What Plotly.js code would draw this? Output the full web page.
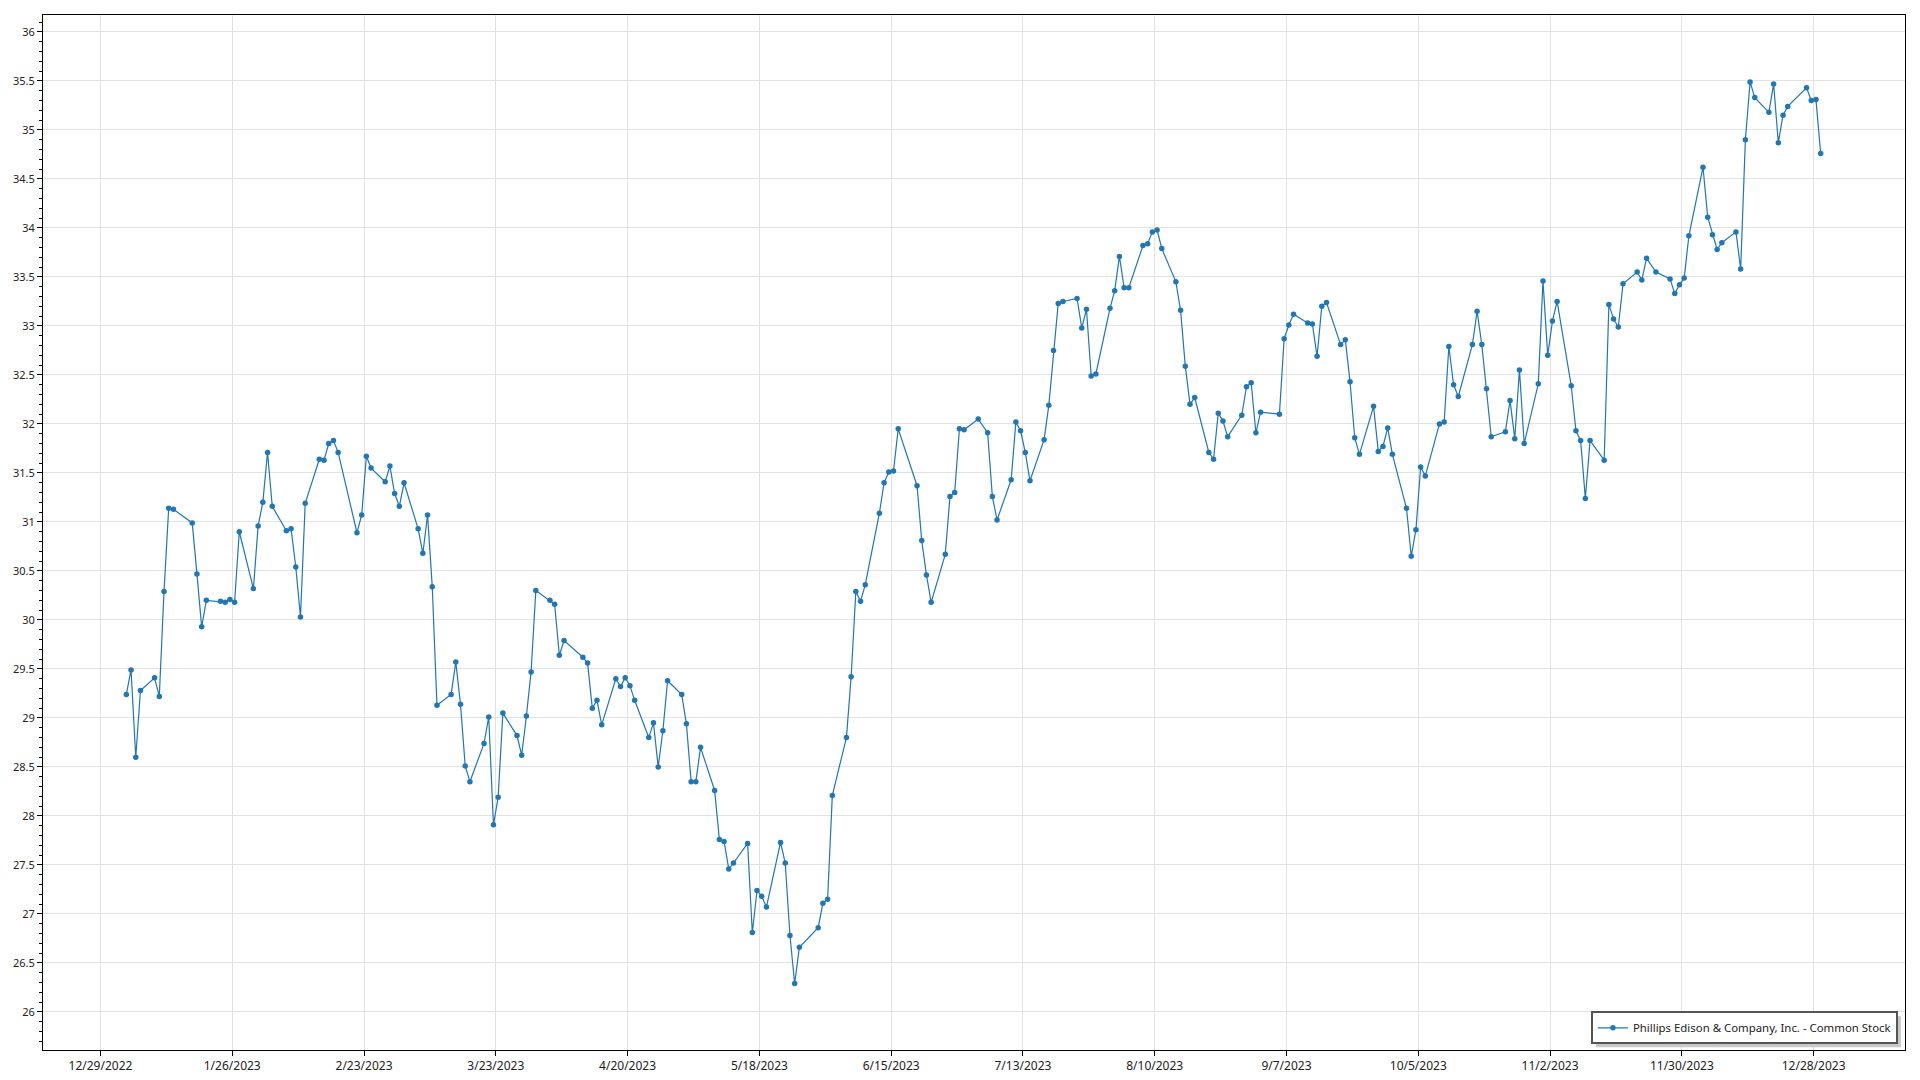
<!DOCTYPE html>
<html>
<head>
<meta charset="utf-8">
<script src="https://cdn.plot.ly/plotly-3.0.1.min.js"></script>
<style>
html, body { margin: 0; padding: 0; background: #ffffff; }
#chart { width: 1920px; height: 1080px; }
</style>
</head>
<body>
<div id="chart"></div>
<script>
const seriesName = "Phillips Edison & Company, Inc. - Common Stock";

const dates = [
  "2023-01-03","2023-01-04","2023-01-05","2023-01-06","2023-01-09","2023-01-10","2023-01-11","2023-01-12","2023-01-13","2023-01-17",
  "2023-01-18","2023-01-19","2023-01-20","2023-01-23","2023-01-24","2023-01-25","2023-01-26","2023-01-27","2023-01-30","2023-01-31",
  "2023-02-01","2023-02-02","2023-02-03","2023-02-06","2023-02-07","2023-02-08","2023-02-09","2023-02-10","2023-02-13","2023-02-14",
  "2023-02-15","2023-02-16","2023-02-17","2023-02-21","2023-02-22","2023-02-23","2023-02-24","2023-02-27","2023-02-28",
  "2023-03-01","2023-03-02","2023-03-03","2023-03-06","2023-03-07","2023-03-08","2023-03-09","2023-03-10","2023-03-13","2023-03-14",
  "2023-03-15","2023-03-16","2023-03-17","2023-03-20","2023-03-21","2023-03-22","2023-03-23","2023-03-24","2023-03-27","2023-03-28",
  "2023-03-29","2023-03-30","2023-03-31",
  "2023-04-03","2023-04-04","2023-04-05","2023-04-06","2023-04-10","2023-04-11","2023-04-12","2023-04-13","2023-04-14","2023-04-17",
  "2023-04-18","2023-04-19","2023-04-20","2023-04-21","2023-04-24","2023-04-25","2023-04-26","2023-04-27","2023-04-28",
  "2023-05-01","2023-05-02","2023-05-03","2023-05-04","2023-05-05","2023-05-08","2023-05-09","2023-05-10","2023-05-11","2023-05-12",
  "2023-05-15","2023-05-16","2023-05-17","2023-05-18","2023-05-19","2023-05-22","2023-05-23","2023-05-24","2023-05-25","2023-05-26",
  "2023-05-30","2023-05-31",
  "2023-06-01","2023-06-02","2023-06-05","2023-06-06","2023-06-07","2023-06-08","2023-06-09","2023-06-12","2023-06-13","2023-06-14",
  "2023-06-15","2023-06-16","2023-06-20","2023-06-21","2023-06-22","2023-06-23","2023-06-26","2023-06-27","2023-06-28","2023-06-29",
  "2023-06-30",
  "2023-07-03","2023-07-05","2023-07-06","2023-07-07","2023-07-10","2023-07-11","2023-07-12","2023-07-13","2023-07-14","2023-07-17",
  "2023-07-18","2023-07-19","2023-07-20","2023-07-21","2023-07-24","2023-07-25","2023-07-26","2023-07-27","2023-07-28","2023-07-31",
  "2023-08-01","2023-08-02","2023-08-03","2023-08-04","2023-08-07","2023-08-08","2023-08-09","2023-08-10","2023-08-11","2023-08-14",
  "2023-08-15","2023-08-16","2023-08-17","2023-08-18","2023-08-21","2023-08-22","2023-08-23","2023-08-24","2023-08-25","2023-08-28",
  "2023-08-29","2023-08-30","2023-08-31",
  "2023-09-01","2023-09-05","2023-09-06","2023-09-07","2023-09-08","2023-09-11","2023-09-12","2023-09-13","2023-09-14","2023-09-15",
  "2023-09-18","2023-09-19","2023-09-20","2023-09-21","2023-09-22","2023-09-25","2023-09-26","2023-09-27","2023-09-28","2023-09-29",
  "2023-10-02","2023-10-03","2023-10-04","2023-10-05","2023-10-06","2023-10-09","2023-10-10","2023-10-11","2023-10-12","2023-10-13",
  "2023-10-16","2023-10-17","2023-10-18","2023-10-19","2023-10-20","2023-10-23","2023-10-24","2023-10-25","2023-10-26","2023-10-27",
  "2023-10-30","2023-10-31",
  "2023-11-01","2023-11-02","2023-11-03","2023-11-06","2023-11-07","2023-11-08","2023-11-09","2023-11-10","2023-11-13","2023-11-14",
  "2023-11-15","2023-11-16","2023-11-17","2023-11-20","2023-11-21","2023-11-22","2023-11-24","2023-11-27","2023-11-28","2023-11-29",
  "2023-11-30",
  "2023-12-01","2023-12-04","2023-12-05","2023-12-06","2023-12-07","2023-12-08","2023-12-11","2023-12-12","2023-12-13","2023-12-14",
  "2023-12-15","2023-12-18","2023-12-19","2023-12-20","2023-12-21","2023-12-22","2023-12-26","2023-12-27","2023-12-28","2023-12-29"
];

const closes = [
  29.24,29.49,28.60,29.28,29.41,29.22,30.29,31.14,31.13,30.99,
  30.47,29.93,30.20,30.19,30.18,30.21,30.18,30.90,30.32,30.96,
  31.20,31.71,31.16,30.91,30.93,30.54,30.03,31.19,31.64,31.63,
  31.80,31.83,31.71,30.89,31.07,31.67,31.55,31.41,31.57,
  31.29,31.16,31.40,30.93,30.68,31.07,30.34,29.13,29.24,29.57,
  29.14,28.51,28.35,28.74,29.01,27.91,28.19,29.05,28.82,28.62,
  29.02,29.47,30.30,
  30.20,30.16,29.64,29.79,29.62,29.56,29.10,29.18,28.93,29.40,
  29.32,29.41,29.33,29.18,28.80,28.95,28.50,28.87,29.38,
  29.24,28.94,28.35,28.35,28.70,28.26,27.76,27.74,27.46,27.52,
  27.72,26.81,27.24,27.18,27.07,27.73,27.52,26.78,26.29,26.66,
  26.86,27.11,
  27.15,28.21,28.80,29.42,30.29,30.19,30.36,31.09,31.40,31.51,
  31.52,31.95,31.37,30.81,30.46,30.18,30.67,31.26,31.30,31.95,
  31.94,
  32.05,31.91,31.26,31.02,31.43,32.02,31.93,31.71,31.42,31.84,
  32.19,32.75,33.23,33.25,33.28,32.98,33.17,32.49,32.51,33.18,
  33.36,33.71,33.39,33.39,33.82,33.84,33.96,33.98,33.79,33.45,
  33.16,32.59,32.20,32.27,31.71,31.64,32.11,32.03,31.87,32.09,
  32.38,32.42,31.91,
  32.12,32.10,32.87,33.01,33.12,33.03,33.02,32.69,33.20,33.24,
  32.81,32.86,32.43,31.86,31.69,32.18,31.72,31.77,31.96,31.69,
  31.14,30.65,30.92,31.56,31.47,32.00,32.02,32.79,32.40,32.28,
  32.81,33.15,32.81,32.36,31.87,31.92,32.24,31.85,32.55,31.80,
  32.41,33.46,
  32.70,33.05,33.25,32.39,31.93,31.83,31.24,31.83,31.63,33.22,
  33.07,32.99,33.43,33.55,33.47,33.69,33.55,33.48,33.33,33.42,
  33.49,
  33.92,34.62,34.11,33.93,33.78,33.85,33.96,33.58,34.90,35.49,
  35.33,35.18,35.47,34.87,35.15,35.24,35.43,35.30,35.31,34.76
];

const lineColor = "#1f77b4";
const fontFamily = "'Segoe UI', 'Noto Sans', 'DejaVu Sans', sans-serif";

const trace = {
  type: "scatter",
  mode: "lines+markers",
  name: seriesName,
  x: dates.map(d => d + " 12:00"),
  y: closes,
  line: { color: lineColor, width: 1.2 },
  marker: { color: lineColor, size: 5.5 },
  showlegend: true
};

const layout = {
  width: 1920,
  height: 1080,
  paper_bgcolor: "#ffffff",
  plot_bgcolor: "#ffffff",
  margin: { l: 43, r: 15, t: 15, b: 30, pad: 0 },
  font: { family: fontFamily, size: 12, color: "#222222" },
  showlegend: true,
  xaxis: {
    type: "date",
    range: ["2022-12-16 19:00", "2024-01-16 10:00"],
    tick0: "2022-12-29",
    dtick: 28 * 86400000,
    tickformat: "%-m/%-d/%Y",
    showgrid: true,
    gridcolor: "#e2e2e2",
    gridwidth: 1,
    zeroline: false,
    showline: true,
    mirror: true,
    linecolor: "#000000",
    linewidth: 1,
    ticks: "outside",
    ticklen: 5,
    tickcolor: "#000000",
    tickfont: { size: 12, color: "#222222" }
  },
  yaxis: {
    range: [25.612, 36.173],
    tick0: 0,
    dtick: 0.5,
    showgrid: true,
    gridcolor: "#e2e2e2",
    gridwidth: 1,
    zeroline: false,
    showline: true,
    mirror: true,
    linecolor: "#000000",
    linewidth: 1,
    ticks: "outside",
    ticklen: 5,
    tickcolor: "#000000",
    tickfont: { size: 11, color: "#222222" },
    minor: { dtick: 0.1, ticks: "outside", ticklen: 3, tickcolor: "#000000", showgrid: false }
  },
  legend: {
    x: 0.9962,
    y: 0.0055,
    xanchor: "right",
    yanchor: "bottom",
    bgcolor: "#ffffff",
    bordercolor: "#555555",
    borderwidth: 2,
    tracegroupgap: 0,
    font: { family: fontFamily, size: 11.4, color: "#222222" }
  }
};

Plotly.newPlot("chart", [trace], layout, { displayModeBar: false, staticPlot: true }).then(gd => {
  // drop shadow behind the legend box (decoration only)
  const bg = gd.querySelector(".legend .bg");
  if (!bg) return;
  const r = bg.getBoundingClientRect();
  const fs = gd._fullLayout._size;
  const toPx = (px) => (px - fs.l) / fs.w;
  const toPy = (py) => (fs.t + fs.h - py) / fs.h;
  const off = 4;
  Plotly.relayout(gd, {
    shapes: [{
      type: "rect", xref: "paper", yref: "paper", layer: "above",
      x0: toPx(r.left + off), x1: toPx(r.right + off),
      y0: toPy(r.bottom + off), y1: toPy(r.top + off),
      fillcolor: "#c8c8c8", line: { width: 0 }
    }]
  });
});
</script>
</body>
</html>
